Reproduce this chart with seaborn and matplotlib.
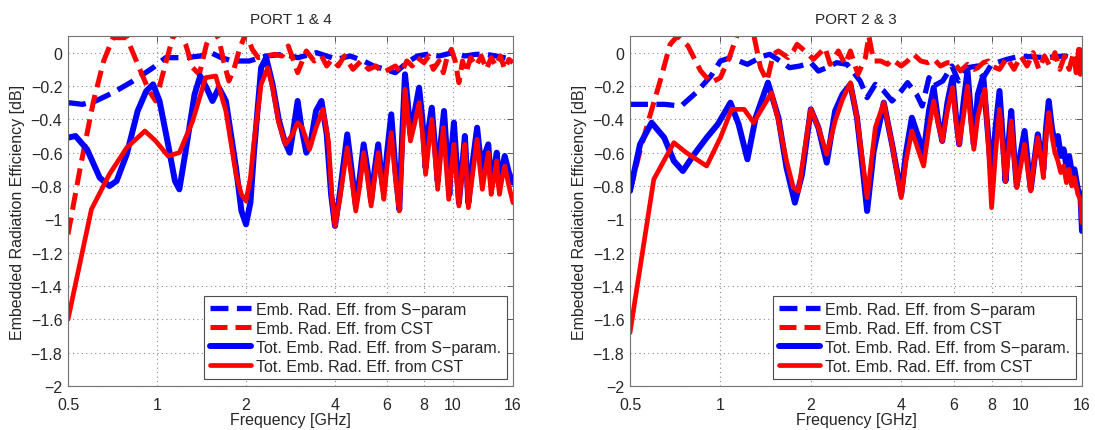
import matplotlib
matplotlib.use("Agg")
import matplotlib.pyplot as plt
import seaborn as sns
from matplotlib.ticker import FixedLocator, FixedFormatter, NullLocator

# ---------------- data (frequency in GHz, efficiency in dB) ----------------
# PORT 1 & 4
L_SP_EMB = [(0.5, -0.30), (0.56, -0.31), (0.62, -0.29), (0.71, -0.24), (0.83, -0.17), (0.97, -0.09),
            (1.07, -0.03), (1.25, -0.03), (1.4, -0.02), (1.52, 0.0), (1.65, -0.03), (1.8, -0.05),
            (2.05, -0.05), (2.34, -0.02), (2.67, -0.01), (3.0, -0.03), (3.46, 0.0), (3.9, -0.03),
            (4.05, -0.04), (4.5, -0.02), (5.0, -0.05), (5.4, -0.08), (5.9, -0.10), (6.4, -0.12),
            (7.0, -0.06), (7.6, -0.02), (8.2, -0.01), (9.0, -0.02), (10.0, 0.0), (11.0, -0.02),
            (12.0, -0.01), (13.0, -0.01), (14.0, -0.02), (16.0, -0.04)]

L_CST_EMB = [(0.5, -1.09), (0.55, -0.69), (0.61, -0.29), (0.66, -0.05), (0.71, 0.09), (0.79, 0.09),
             (0.87, -0.09), (0.94, -0.23), (0.99, -0.29), (1.06, -0.09), (1.13, 0.09), (1.19, 0.13),
             (1.25, 0.05), (1.32, -0.09), (1.39, -0.13), (1.47, 0.05), (1.55, 0.14), (1.62, 0.08),
             (1.68, -0.05), (1.75, -0.17), (1.82, -0.10), (1.9, 0.02), (2.0, 0.12), (2.1, 0.02),
             (2.2, -0.03), (2.35, -0.02), (2.5, -0.01), (2.65, -0.02), (2.78, 0.04), (2.9, -0.05),
             (2.99, -0.12), (3.1, -0.05), (3.2, 0.01), (3.4, -0.05), (3.6, -0.02), (3.75, -0.08),
             (3.9, -0.04), (4.1, -0.08), (4.3, -0.02), (4.6, -0.10), (4.9, -0.05), (5.2, -0.10),
             (5.5, -0.08), (5.8, -0.12), (6.1, -0.10), (6.4, -0.08), (6.7, -0.12), (7.0, -0.05),
             (7.3, -0.08), (7.6, -0.03), (8.0, -0.06), (8.3, -0.02), (8.6, -0.10), (9.0, -0.05),
             (9.3, -0.12), (9.6, -0.02), (9.9, 0.02), (10.2, -0.05), (10.5, -0.18), (10.8, -0.05),
             (11.1, -0.12), (11.5, -0.03), (12.0, -0.08), (12.5, -0.02), (13.0, -0.10), (13.5, -0.03),
             (14.0, -0.08), (14.5, -0.02), (15.0, -0.10), (15.5, -0.04), (16.0, -0.06)]

L_SP_TOT = [(0.5, -0.51), (0.53, -0.50), (0.58, -0.58), (0.64, -0.75), (0.69, -0.80), (0.73, -0.77),
            (0.79, -0.61), (0.86, -0.35), (0.92, -0.23), (0.97, -0.19), (1.02, -0.29), (1.09, -0.55),
            (1.15, -0.77), (1.19, -0.82), (1.25, -0.59), (1.34, -0.25), (1.4, -0.14), (1.47, -0.21),
            (1.54, -0.29), (1.62, -0.21), (1.71, -0.29), (1.85, -0.69), (1.93, -0.95), (2.0, -1.03),
            (2.07, -0.90), (2.13, -0.59), (2.25, -0.09), (2.34, -0.03), (2.46, -0.19), (2.58, -0.40),
            (2.7, -0.53), (2.81, -0.60), (2.9, -0.45), (2.99, -0.29), (3.08, -0.45), (3.2, -0.60),
            (3.3, -0.55), (3.45, -0.35), (3.6, -0.29), (3.75, -0.49), (3.88, -0.85), (4.0, -1.04),
            (4.15, -0.85), (4.4, -0.49), (4.55, -0.70), (4.7, -0.91), (4.85, -0.75), (5.0, -0.55),
            (5.15, -0.70), (5.3, -0.89), (5.45, -0.70), (5.6, -0.55), (5.75, -0.75), (5.85, -0.83),
            (6.0, -0.60), (6.2, -0.37), (6.4, -0.70), (6.6, -0.94), (6.75, -0.50), (6.9, -0.13),
            (7.05, -0.30), (7.2, -0.49), (7.45, -0.35), (7.7, -0.21), (7.9, -0.40), (8.1, -0.69),
            (8.3, -0.45), (8.5, -0.33), (8.7, -0.55), (8.9, -0.77), (9.1, -0.55), (9.35, -0.35),
            (9.55, -0.60), (9.75, -0.85), (9.9, -0.60), (10.1, -0.42), (10.3, -0.65), (10.5, -0.90),
            (10.75, -0.70), (11.0, -0.50), (11.15, -0.70), (11.3, -0.90), (11.7, -0.65), (12.1, -0.45),
            (12.35, -0.60), (12.6, -0.70), (12.9, -0.60), (13.2, -0.55), (13.35, -0.68), (13.5, -0.78),
            (13.8, -0.70), (14.1, -0.60), (14.25, -0.70), (14.4, -0.80), (14.7, -0.70), (15.0, -0.62),
            (15.5, -0.72), (16.0, -0.78)]

L_CST_TOT = [(0.5, -1.60), (0.6, -0.94), (0.69, -0.73), (0.79, -0.57), (0.91, -0.47), (0.99, -0.53),
             (1.09, -0.62), (1.19, -0.60), (1.32, -0.41), (1.46, -0.15), (1.58, -0.14), (1.71, -0.35),
             (1.85, -0.73), (1.93, -0.85), (2.0, -0.89), (2.07, -0.75), (2.13, -0.53), (2.25, -0.19),
             (2.37, -0.09), (2.46, -0.21), (2.58, -0.42), (2.72, -0.55), (2.85, -0.50), (2.99, -0.42),
             (3.1, -0.45), (3.28, -0.58), (3.45, -0.45), (3.64, -0.34), (3.8, -0.53), (3.9, -0.85),
             (4.0, -1.04), (4.15, -0.88), (4.4, -0.57), (4.55, -0.75), (4.7, -0.95), (4.85, -0.80),
             (5.0, -0.60), (5.15, -0.75), (5.3, -0.92), (5.45, -0.75), (5.6, -0.60), (5.75, -0.78),
             (5.85, -0.88), (6.0, -0.68), (6.2, -0.48), (6.4, -0.75), (6.6, -0.95), (6.75, -0.60),
             (6.9, -0.22), (7.05, -0.38), (7.2, -0.53), (7.45, -0.42), (7.7, -0.30), (7.9, -0.48),
             (8.1, -0.73), (8.3, -0.55), (8.5, -0.40), (8.7, -0.60), (8.9, -0.82), (9.1, -0.62),
             (9.3, -0.45), (9.5, -0.67), (9.7, -0.88), (9.9, -0.70), (10.1, -0.55), (10.3, -0.75),
             (10.5, -0.92), (10.75, -0.72), (11.0, -0.55), (11.15, -0.75), (11.3, -0.93), (11.7, -0.72),
             (12.1, -0.52), (12.35, -0.68), (12.6, -0.82), (12.9, -0.70), (13.2, -0.60), (13.35, -0.75),
             (13.5, -0.85), (13.8, -0.75), (14.1, -0.65), (14.25, -0.78), (14.4, -0.85), (14.7, -0.75),
             (15.0, -0.68), (15.5, -0.80), (16.0, -0.90)]

# PORT 2 & 3
R_SP_EMB = [(0.5, -0.31), (0.58, -0.31), (0.65, -0.31), (0.74, -0.32), (0.83, -0.24), (0.93, -0.14),
            (1.0, -0.05), (1.08, -0.03), (1.23, -0.07), (1.39, -0.02), (1.46, -0.01), (1.58, -0.05),
            (1.7, -0.09), (1.84, -0.08), (2.0, -0.06), (2.12, -0.11), (2.26, -0.09), (2.44, -0.06),
            (2.64, -0.07), (2.78, -0.12), (2.92, -0.17), (3.08, -0.27), (3.28, -0.19), (3.5, -0.23),
            (3.73, -0.29), (4.0, -0.23), (4.2, -0.18), (4.5, -0.25), (4.7, -0.32), (4.95, -0.15),
            (5.13, -0.20), (5.5, -0.17), (5.9, -0.08), (6.2, -0.17), (6.65, -0.09), (7.2, -0.08),
            (7.5, -0.15), (8.0, -0.07), (9.0, -0.04), (10.0, -0.02), (12.0, -0.03), (14.0, -0.02),
            (16.0, -0.05)]

R_CST_EMB = [(0.5, -0.83), (0.54, -0.59), (0.58, -0.39), (0.63, -0.17), (0.68, 0.05), (0.72, 0.10),
             (0.78, 0.04), (0.86, -0.11), (0.93, -0.18), (1.0, -0.15), (1.07, -0.03), (1.14, 0.11),
             (1.22, 0.14), (1.29, 0.11), (1.36, -0.09), (1.43, -0.17), (1.5, -0.01), (1.56, 0.01),
             (1.68, -0.03), (1.75, 0.01), (1.8, 0.05), (1.94, 0.0), (2.04, -0.04), (2.15, 0.0),
             (2.23, 0.03), (2.32, -0.07), (2.47, 0.01), (2.6, -0.07), (2.71, 0.01), (2.87, -0.13),
             (3.04, -0.03), (3.12, 0.10), (3.24, -0.05), (3.42, -0.05), (3.6, -0.07), (3.73, -0.04),
             (4.0, -0.08), (4.2, -0.05), (4.4, -0.01), (4.65, -0.05), (4.9, -0.06), (5.15, -0.04),
             (5.4, -0.08), (5.7, -0.06), (6.0, -0.06), (6.3, -0.11), (6.65, -0.07), (7.0, -0.10),
             (7.2, -0.09), (7.5, -0.06), (7.8, -0.05), (8.0, -0.08), (8.5, -0.10), (9.0, -0.03),
             (9.5, -0.10), (10.0, -0.02), (10.5, -0.08), (11.0, 0.0), (11.5, -0.10), (12.0, -0.02),
             (12.5, -0.08), (13.0, 0.0), (13.5, -0.10), (14.0, -0.02), (14.5, -0.10), (15.0, 0.0),
             (15.3, -0.12), (15.6, 0.02), (15.8, -0.13), (16.0, 0.03)]

R_SP_TOT = [(0.5, -0.83), (0.54, -0.55), (0.59, -0.42), (0.65, -0.51), (0.7, -0.65), (0.75, -0.71),
            (0.81, -0.62), (0.9, -0.51), (0.98, -0.43), (1.08, -0.30), (1.15, -0.43), (1.23, -0.64),
            (1.31, -0.39), (1.44, -0.18), (1.56, -0.39), (1.66, -0.69), (1.77, -0.90), (1.87, -0.73),
            (2.0, -0.34), (2.12, -0.45), (2.26, -0.66), (2.41, -0.35), (2.55, -0.25), (2.71, -0.19),
            (2.85, -0.39), (3.0, -0.75), (3.08, -0.95), (3.24, -0.59), (3.5, -0.30), (3.73, -0.55),
            (4.0, -0.85), (4.15, -0.60), (4.34, -0.39), (4.55, -0.50), (4.75, -0.60), (4.95, -0.35),
            (5.13, -0.21), (5.3, -0.40), (5.48, -0.53), (5.7, -0.30), (5.93, -0.15), (6.1, -0.40),
            (6.24, -0.55), (6.45, -0.30), (6.65, -0.11), (6.85, -0.40), (6.98, -0.55), (7.2, -0.25),
            (7.5, -0.14), (7.75, -0.45), (8.0, -0.75), (8.25, -0.45), (8.5, -0.23), (8.7, -0.50),
            (8.9, -0.77), (9.1, -0.55), (9.3, -0.35), (9.5, -0.60), (9.7, -0.80), (10.0, -0.60),
            (10.3, -0.47), (10.55, -0.65), (10.8, -0.82), (11.1, -0.65), (11.4, -0.49), (11.65, -0.60),
            (11.9, -0.70), (12.15, -0.45), (12.4, -0.29), (12.7, -0.45), (13.0, -0.55), (13.3, -0.50),
            (13.6, -0.62), (13.9, -0.58), (14.2, -0.68), (14.5, -0.62), (14.8, -0.72), (15.1, -0.70),
            (15.5, -0.82), (15.8, -0.85), (16.0, -1.07)]

R_CST_TOT = [(0.5, -1.68), (0.6, -0.76), (0.7, -0.54), (0.77, -0.60), (0.9, -0.68), (1.0, -0.51),
             (1.09, -0.34), (1.2, -0.34), (1.29, -0.42), (1.48, -0.24), (1.56, -0.41), (1.66, -0.65),
             (1.75, -0.81), (1.82, -0.83), (1.9, -0.60), (2.0, -0.34), (2.12, -0.45), (2.26, -0.61),
             (2.41, -0.41), (2.55, -0.28), (2.71, -0.18), (2.85, -0.39), (3.0, -0.70), (3.08, -0.87),
             (3.28, -0.45), (3.5, -0.30), (3.73, -0.55), (4.0, -0.87), (4.15, -0.65), (4.34, -0.47),
             (4.55, -0.58), (4.75, -0.68), (4.95, -0.45), (5.13, -0.29), (5.3, -0.42), (5.48, -0.53),
             (5.7, -0.35), (5.93, -0.21), (6.1, -0.42), (6.24, -0.55), (6.45, -0.38), (6.65, -0.20),
             (6.85, -0.45), (6.98, -0.58), (7.2, -0.38), (7.6, -0.22), (7.8, -0.55), (8.0, -0.93),
             (8.25, -0.60), (8.5, -0.34), (8.7, -0.55), (8.9, -0.77), (9.1, -0.60), (9.3, -0.41),
             (9.5, -0.62), (9.7, -0.81), (10.0, -0.68), (10.3, -0.55), (10.55, -0.70), (10.8, -0.83),
             (11.1, -0.65), (11.4, -0.51), (11.65, -0.62), (11.9, -0.75), (12.15, -0.50), (12.4, -0.36),
             (12.7, -0.50), (13.0, -0.60), (13.3, -0.65), (13.6, -0.72), (13.9, -0.68), (14.2, -0.78),
             (14.5, -0.70), (14.8, -0.80), (15.1, -0.75), (15.5, -0.85), (15.8, -0.88), (16.0, -1.02)]

TITLES = ["PORT 1 & 4", "PORT 2 & 3"]
LABELS = ["Emb. Rad. Eff. from S\u2212param", "Emb. Rad. Eff. from CST",
          "Tot. Emb. Rad. Eff. from S\u2212param.", "Tot. Emb. Rad. Eff. from CST"]
XTICKS = [0.5, 1, 2, 4, 6, 8, 10, 16]
XTICKLABELS = ["0.5", "1", "2", "4", "6", "8", "10", "16"]
YTICKS = [-2, -1.8, -1.6, -1.4, -1.2, -1, -0.8, -0.6, -0.4, -0.2, 0]
YTICKLABELS = ["\u22122", "\u22121.8", "\u22121.6", "\u22121.4", "\u22121.2", "\u22121",
               "\u22120.8", "\u22120.6", "\u22120.4", "\u22120.2", "0"]

PANELS = [[L_SP_EMB, L_CST_EMB, L_SP_TOT, L_CST_TOT],
          [R_SP_EMB, R_CST_EMB, R_SP_TOT, R_CST_TOT]]

# ---------------- styling ----------------
sns.set_style("white")
plt.rcParams["font.family"] = ["Liberation Sans", "DejaVu Sans"]
plt.rcParams["font.size"] = 11

STYLES = [dict(color=(0, 0, 1), lw=3.8, linestyle=(0, (3.4, 1.6))),
          dict(color=(1, 0, 0), lw=3.6, linestyle=(0, (3.4, 1.6))),
          dict(color=(0, 0, 1), lw=4.3, linestyle="-"),
          dict(color=(1, 0, 0), lw=3.4, linestyle="-")]

fig = plt.figure(figsize=(10.95, 4.31), dpi=100)
axes = [fig.add_axes([68 / 1095, 44 / 431, 445 / 1095, 350 / 431]),
        fig.add_axes([630 / 1095, 44 / 431, 452 / 1095, 350 / 431])]

for ax, series, title in zip(axes, PANELS, TITLES):
    for data, style, label in zip(series, STYLES, LABELS):
        f = [p[0] for p in data]
        v = [p[1] for p in data]
        sns.lineplot(x=f, y=v, ax=ax, estimator=None, sort=False, label=label, **style)
    ax.set_xscale("log")
    ax.set_xlim(0.5, 16)
    ax.set_ylim(-2, 0.1)
    ax.xaxis.set_major_locator(FixedLocator(XTICKS))
    ax.xaxis.set_major_formatter(FixedFormatter(XTICKLABELS))
    ax.xaxis.set_minor_locator(NullLocator())
    ax.yaxis.set_major_locator(FixedLocator(YTICKS))
    ax.yaxis.set_major_formatter(FixedFormatter(YTICKLABELS))
    ax.grid(True, which="major", linestyle=(0, (1, 3)), color="0.55", linewidth=0.8)
    ax.tick_params(direction="in", length=4, width=0.7, color="0.35", top=True, right=True,
                   labelsize=11.5)
    ax.tick_params(axis="x", pad=8)
    ax.tick_params(axis="y", pad=4)
    for sp in ax.spines.values():
        sp.set_color("0.45")
        sp.set_linewidth(0.8)
    ax.set_xlabel("Frequency [GHz]", fontsize=11.5, labelpad=0)
    ax.set_ylabel("Embedded Radiation Efficiency [dB]", fontsize=11.5, labelpad=4)
    ax.set_title(title, fontsize=11, pad=9)
    leg = ax.legend(loc="lower right", bbox_to_anchor=(0.986, 0.019), borderaxespad=0,
                    fontsize=11.5, handlelength=2.6, handletextpad=0.3, labelspacing=0.25,
                    borderpad=0.35, fancybox=False, framealpha=1, edgecolor="0.3")
    leg.get_frame().set_linewidth(0.8)

fig.savefig("out.png", dpi=100)
